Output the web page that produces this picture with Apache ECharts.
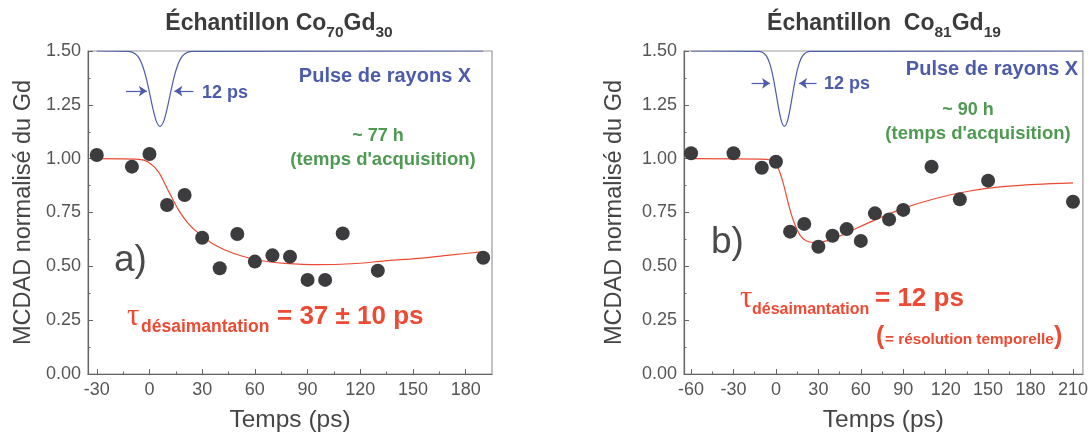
<!DOCTYPE html>
<html>
<head>
<meta charset="utf-8">
<script src="https://cdn.jsdelivr.net/npm/echarts@6/dist/echarts.min.js"></script>
<style>html,body{margin:0;padding:0;background:#fff}#c{width:1091px;height:438px}</style>
</head>
<body>
<div id="c"></div>
<script>
// ---- data ----
const leftTimes  = [-30, -10, 0, 10, 20, 30, 40, 50, 60, 70, 80, 90, 100, 110, 130, 190];
const leftValues = [1.017, 0.963, 1.022, 0.785, 0.831, 0.633, 0.491, 0.650, 0.522, 0.551, 0.545, 0.437, 0.437, 0.653, 0.480, 0.540];
const leftFitT = [-30, -6, -1, 5, 11, 16.5, 22, 28, 35.5, 43, 52.5, 64, 77, 96, 115, 134, 153, 172, 190];
const leftFitV = [1.0, 0.997, 0.986, 0.94, 0.847, 0.762, 0.70, 0.653, 0.607, 0.576, 0.548, 0.526, 0.514, 0.508, 0.512, 0.525, 0.537, 0.553, 0.568];

const rightTimes  = [-60, -30, -10, 0, 10, 20, 30, 40, 50, 60, 70, 80, 90, 110, 130, 150, 210];
const rightValues = [1.025, 1.025, 0.958, 0.986, 0.661, 0.697, 0.591, 0.642, 0.673, 0.618, 0.746, 0.718, 0.762, 0.963, 0.811, 0.898, 0.800];
const rightFitT = [-60, -6.6, -1.9, 1.6, 5.2, 8.7, 12.2, 16.9, 21.6, 28.7, 35.8, 45.2, 57, 71, 90, 113.4, 137, 160.4, 184, 210];
const rightFitV = [1.0, 0.997, 0.986, 0.955, 0.885, 0.793, 0.715, 0.646, 0.618, 0.610, 0.618, 0.641, 0.677, 0.718, 0.769, 0.816, 0.850, 0.870, 0.881, 0.888];

const leftPulseT  = [-30, -12, -10, -8, -6, -4, -2, 0, 2, 4, 6, 8, 10, 12, 14, 16, 18, 20, 22, 24, 190];
const leftPulseV  = [1.5, 1.498, 1.495, 1.486, 1.468, 1.433, 1.379, 1.307, 1.231, 1.172, 1.15, 1.172, 1.231, 1.307, 1.379, 1.433, 1.468, 1.486, 1.495, 1.498, 1.5];
const rightPulseT = [-60, -12, -10, -8, -6, -4, -2, 0, 2, 4, 6, 8, 10, 12, 14, 16, 18, 20, 22, 24, 217];
const rightPulseV = [1.5, 1.498, 1.495, 1.486, 1.468, 1.433, 1.379, 1.307, 1.231, 1.172, 1.15, 1.172, 1.231, 1.307, 1.379, 1.433, 1.468, 1.486, 1.495, 1.498, 1.5];

const leftTicks  = [-30, 0, 30, 60, 90, 120, 150, 180];
const leftMinor  = [-15, 15, 45, 75, 105, 135, 165];
const rightTicks = [-60, -30, 0, 30, 60, 90, 120, 150, 180, 210];
const rightMinor = [-45, -15, 15, 45, 75, 105, 135, 165, 195];

const xName = 'Temps (ps)';
const yName = 'MCDAD normalisé du Gd';

// ---- rendering ----
const FF = '"Liberation Sans", Arial, sans-serif';
const BLUE = '#4d5bab', RED = '#ec4a33', GREEN = '#4e9a52', DARK = '#3c3c3e';
const zip = (a, b) => a.map((v, i) => [v, b[i]]);
const mctx = document.createElement('canvas').getContext('2d');
function tw(t, size, weight, fam) { mctx.font = (weight || 'normal') + ' ' + size + 'px ' + (fam || FF); return mctx.measureText(t).width; }

function txt(x, y, t, size, weight, fill, align, fam) {
  return { type: 'text', x: x, y: y, silent: true, z: 100,
    style: { text: t, fontSize: size, fontWeight: weight || 'normal', fontFamily: fam || FF, fill: fill, align: align || 'left', verticalAlign: 'middle' } };
}
function seq(xStart, parts, center) {
  let total = 0;
  parts.forEach(p => { p.w = tw(p.t, p.s, p.wt, p.f); total += p.w; });
  let x = center ? xStart - total / 2 : xStart;
  return parts.map(p => { const e = txt(x, p.y, p.t, p.s, p.wt, p.c, 'left', p.f); x += p.w; return e; });
}

function mainX(g, min, max, ticks) {
  return { type: 'value', gridIndex: g, min: min, max: max, position: 'bottom',
    name: xName, nameLocation: 'middle', nameGap: 34,
    nameTextStyle: { fontSize: 24.5, color: '#454545', fontFamily: FF },
    axisLine: { onZero: false, lineStyle: { color: '#666', width: 1.2 } },
    axisTick: { inside: true, length: 5, customValues: ticks, lineStyle: { color: '#666' } },
    axisLabel: { customValues: ticks, fontSize: 18, color: '#555', margin: 7, fontFamily: FF },
    splitLine: { show: false } };
}
function minorX(g, min, max, ticks) {
  return { type: 'value', gridIndex: g, min: min, max: max, position: 'bottom',
    axisLine: { show: false },
    axisTick: { inside: true, length: 2.5, customValues: ticks, lineStyle: { color: '#666' } },
    axisLabel: { show: false }, splitLine: { show: false } };
}
function mainY(g, gap) {
  return { type: 'value', gridIndex: g, min: 0, max: 1.5, interval: 0.25,
    name: yName, nameLocation: 'middle', nameGap: gap, nameRotate: 90,
    nameTextStyle: { fontSize: 23.5, color: '#454545', fontFamily: FF },
    axisLine: { show: true, onZero: false, lineStyle: { color: '#666', width: 1.2 } },
    axisTick: { show: true, inside: true, length: 5, lineStyle: { color: '#666' } },
    minorTick: { show: true, splitNumber: 2, length: 2.5, lineStyle: { color: '#666' } },
    axisLabel: { formatter: v => v.toFixed(2), fontSize: 18, color: '#555', margin: 7, fontFamily: FF },
    splitLine: { show: false }, minorSplitLine: { show: false } };
}
function arrows(y, a1, a2, b1, b2) {
  return { silent: true, symbol: ['none', 'arrow'], symbolSize: 8, animation: false,
    lineStyle: { color: BLUE, width: 1.2, type: 'solid' }, label: { show: false },
    data: [[{ coord: [a1, y] }, { coord: [a2, y] }], [{ coord: [b1, y] }, { coord: [b2, y] }]] };
}

const graphics = [].concat(
  // titles
  seq(279, [
    { t: 'Échantillon Co', s: 23, wt: 'bold', y: 24, c: '#3b3b3b' },
    { t: '70', s: 15.5, wt: 'bold', y: 33, c: '#3b3b3b' },
    { t: 'Gd', s: 23, wt: 'bold', y: 24, c: '#3b3b3b' },
    { t: '30', s: 15.5, wt: 'bold', y: 33, c: '#3b3b3b' }], true),
  seq(884, [
    { t: 'Échantillon  Co', s: 23, wt: 'bold', y: 24, c: '#3b3b3b' },
    { t: '81', s: 15.5, wt: 'bold', y: 33, c: '#3b3b3b' },
    { t: 'Gd', s: 23, wt: 'bold', y: 24, c: '#3b3b3b' },
    { t: '19', s: 15.5, wt: 'bold', y: 33, c: '#3b3b3b' }], true),
  // left annotations
  [txt(385, 76, 'Pulse de rayons X', 20, 'bold', BLUE, 'center'),
   txt(202, 93, '12 ps', 18, 'bold', BLUE, 'left'),
   txt(378, 136, '~ 77 h', 18, 'bold', GREEN, 'center'),
   txt(383, 160, "(temps d'acquisition)", 18.5, 'bold', GREEN, 'center'),
   txt(114, 261, 'a)', 37, 'normal', '#4a4a4a', 'left'),
   txt(127, 317, 'τ', 31, 'normal', RED, 'left', '"Liberation Serif", serif'),
   txt(141, 327, 'désaimantation', 17.5, 'bold', RED, 'left'),
   txt(277, 317, '= 37 ± 10 ps', 26, 'bold', RED, 'left'),
  // right annotations
   txt(992, 69, 'Pulse de rayons X', 20, 'bold', BLUE, 'center'),
   txt(824, 84, '12 ps', 18, 'bold', BLUE, 'left'),
   txt(968, 110, '~ 90 h', 18, 'bold', GREEN, 'center'),
   txt(978, 134, "(temps d'acquisition)", 18.5, 'bold', GREEN, 'center'),
   txt(711, 243, 'b)', 37, 'normal', '#4a4a4a', 'left'),
   txt(740, 299, 'τ', 31, 'normal', RED, 'left', '"Liberation Serif", serif'),
   txt(752, 310, 'désaimantation', 16, 'bold', RED, 'left'),
   txt(875, 299, '= 12 ps', 26, 'bold', RED, 'left'),
   txt(876, 337, '(', 25, 'bold', RED, 'left'),
   txt(885, 340, '= résolution temporelle', 15.3, 'bold', RED, 'left'),
   txt(1054, 337, ')', 25, 'bold', RED, 'left')]
);

const chart = echarts.init(document.getElementById('c'), null, { renderer: 'canvas' });
chart.setOption({
  animation: false,
  backgroundColor: '#fff',
  grid: [
    { left: 88, top: 51, width: 404, height: 323, show: true, borderColor: '#9a9a9a', borderWidth: 1.2, backgroundColor: 'transparent' },
    { left: 684, top: 51, width: 400, height: 323, show: true, borderColor: '#9a9a9a', borderWidth: 1.2, backgroundColor: 'transparent' }
  ],
  xAxis: [mainX(0, -35, 195, leftTicks), minorX(0, -35, 195, leftMinor),
          mainX(1, -65, 217, rightTicks), minorX(1, -65, 217, rightMinor)],
  yAxis: [mainY(0, 52), mainY(1, 57)],
  series: [
    { type: 'line', xAxisIndex: 0, yAxisIndex: 0, data: zip(leftPulseT, leftPulseV), smooth: 0.3, symbol: 'none',
      lineStyle: { color: BLUE, width: 1.2 }, z: 3, markLine: arrows(1.314, -13.4, -1.5, 25, 14.2) },
    { type: 'line', xAxisIndex: 0, yAxisIndex: 0, data: zip(leftFitT, leftFitV), smooth: 0.3, symbol: 'none',
      lineStyle: { color: RED, width: 1.2 }, z: 4 },
    { type: 'scatter', xAxisIndex: 0, yAxisIndex: 0, data: zip(leftTimes, leftValues), symbolSize: 14,
      itemStyle: { color: DARK, opacity: 1 }, z: 5 },
    { type: 'line', xAxisIndex: 2, yAxisIndex: 1, data: zip(rightPulseT, rightPulseV), smooth: 0.3, symbol: 'none',
      lineStyle: { color: BLUE, width: 1.2 }, z: 3, markLine: arrows(1.35, -17.2, -4.2, 28.7, 16.4) },
    { type: 'line', xAxisIndex: 2, yAxisIndex: 1, data: zip(rightFitT, rightFitV), smooth: 0.3, symbol: 'none',
      lineStyle: { color: RED, width: 1.2 }, z: 4 },
    { type: 'scatter', xAxisIndex: 2, yAxisIndex: 1, data: zip(rightTimes, rightValues), symbolSize: 14,
      itemStyle: { color: DARK, opacity: 1 }, z: 5 }
  ],
  graphic: graphics
});
</script>
</body>
</html>
